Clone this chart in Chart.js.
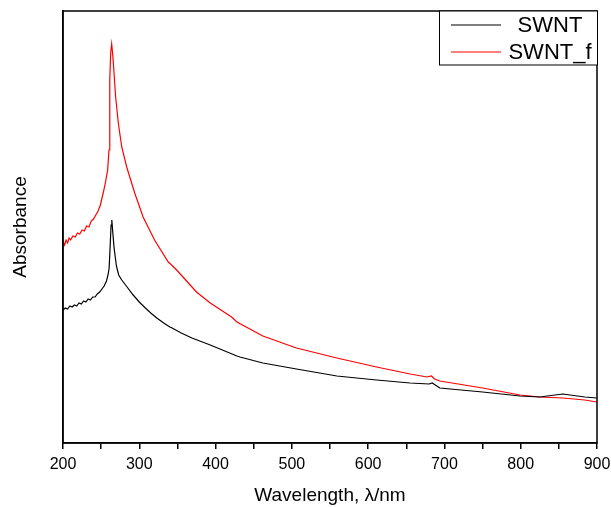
<!DOCTYPE html>
<html>
<head>
<meta charset="utf-8">
<script src="https://cdn.jsdelivr.net/npm/chart.js@4"></script>
<style>
  body { margin: 0; background: #fff; }
  #wrap { width: 611px; height: 507px; }
</style>
</head>
<body>
<div id="wrap"><canvas id="spectra" width="611" height="507"></canvas></div>
<script>
// wavelength (nm) and absorbance (a.u.)
var swntX = [200, 203, 206, 209, 212, 215, 218, 221, 224, 227, 230, 233, 236, 239, 242, 245, 248, 251, 254, 257,
  259, 260.5, 262, 263, 264, 265, 267, 270, 273, 277, 284, 292, 300, 308, 315, 323, 332, 340, 343, 355, 369, 393,
  428, 432, 462, 506, 559, 611, 655, 680, 684, 688, 694, 750, 799, 825, 855, 884, 900];
var swntY = [1.33, 1.35, 1.34, 1.37, 1.36, 1.38, 1.37, 1.40, 1.39, 1.42, 1.41, 1.44, 1.43, 1.46, 1.46, 1.49, 1.51, 1.54, 1.57, 1.62,
  1.68, 1.75, 2.00, 2.18, 2.23, 2.13, 1.95, 1.77, 1.68, 1.63, 1.56, 1.48, 1.41, 1.35, 1.30, 1.25, 1.20, 1.16, 1.15, 1.10, 1.05, 0.98,
  0.87, 0.86, 0.80, 0.74, 0.67, 0.63, 0.60, 0.59, 0.60, 0.58, 0.55, 0.51, 0.47, 0.46, 0.49, 0.46, 0.45];

var swntfX = [200, 202, 204, 206, 208, 210, 213, 216, 219, 222, 225, 228, 231, 234, 237, 240, 243, 246, 249, 253,
  256, 258.5, 260.3, 261, 261.6, 262.5, 263.8, 265, 266, 269, 272.5, 277, 283.5, 294, 305, 320, 338, 341, 349,
  362, 375, 393, 421, 428, 462, 506, 559, 611, 655, 677, 683, 687, 694, 750, 799, 825, 855, 884, 900];
var swntfY = [2.02, 1.98, 2.03, 2.00, 2.05, 2.03, 2.07, 2.06, 2.10, 2.09, 2.13, 2.12, 2.17, 2.16, 2.22, 2.24, 2.28, 2.32, 2.38, 2.51,
  2.62, 2.73, 2.93, 3.20, 3.63, 3.90, 3.99, 3.90, 3.80, 3.46, 3.20, 2.96, 2.76, 2.50, 2.26, 2.03, 1.81, 1.79, 1.73,
  1.62, 1.51, 1.40, 1.26, 1.21, 1.07, 0.95, 0.85, 0.76, 0.69, 0.66, 0.67, 0.64, 0.62, 0.55, 0.48, 0.46, 0.45, 0.43, 0.41];

var seriesNames = ['SWNT', 'SWNT_f'];
var seriesColors = ['#000000', '#ff0000'];
var xTickLabels = [200, 300, 400, 500, 600, 700, 800, 900];

function toPoints(xs, ys) {
  return xs.map(function (x, i) { return { x: x, y: ys[i] }; });
}

var frameAndLegend = {
  id: 'frameAndLegend',
  afterDraw: function (chart) {
    var ctx = chart.ctx, a = chart.chartArea;
    ctx.save();
    ctx.strokeStyle = '#000';
    ctx.lineWidth = 1.5;
    ctx.strokeRect(a.left, a.top, a.right - a.left, a.bottom - a.top);

    // legend box in the top right corner
    var bx = 439, by = a.top, bw = a.right - 439, bh = 54;
    ctx.lineWidth = 1;
    ctx.fillStyle = '#fff';
    ctx.fillRect(bx, by, bw, bh);
    ctx.strokeRect(bx + 0.5, by, bw, bh);
    ctx.font = '22px "Liberation Sans", Arial, sans-serif';
    ctx.textBaseline = 'middle';
    ctx.textAlign = 'center';
    chart.data.datasets.forEach(function (ds, i) {
      var ly = by + 14 + i * 27;
      ctx.strokeStyle = ds.borderColor;
      ctx.beginPath();
      ctx.moveTo(451, ly);
      ctx.lineTo(501, ly);
      ctx.stroke();
      ctx.fillStyle = '#000';
      ctx.fillText(ds.label, 550, ly + 1);
    });
    ctx.restore();
  }
};

var ctxS = document.getElementById('spectra').getContext('2d');
var spectraChart = new Chart(ctxS, {
  type: 'scatter',
  data: {
    datasets: [{
        label: seriesNames[0],
        data: toPoints(swntX, swntY),
        showLine: true,
        borderColor: seriesColors[0],
        borderWidth: 1.2,
        pointRadius: 0,
        tension: 0
      },
      {
        label: seriesNames[1],
        data: toPoints(swntfX, swntfY),
        showLine: true,
        borderColor: seriesColors[1],
        borderWidth: 1.2,
        pointRadius: 0,
        tension: 0
      }
    ]
  },
  options: {
    responsive: false,
    animation: false,
    layout: { padding: { top: 11, right: 14, left: 0, bottom: 0 } },
    plugins: { legend: { display: false }, tooltip: { enabled: false } },
    scales: {
      x: {
        type: 'linear',
        min: 200,
        max: 900,
        afterFit: function (s) { s.height = 64; s.paddingLeft = 0; s.paddingRight = 0; },
        afterBuildTicks: function (s) {
          var t = [];
          for (var v = 200; v <= 900; v += 50) t.push({ value: v });
          s.ticks = t;
        },
        ticks: {
          autoSkip: false,
          maxRotation: 0,
          color: '#000',
          padding: 6,
          font: { family: '"Liberation Sans", Arial, sans-serif', size: 16 },
          callback: function (v) { return xTickLabels.indexOf(v) >= 0 ? String(v) : ''; }
        },
        grid: { drawOnChartArea: false, tickLength: 6, color: '#000', lineWidth: 1.5 },
        border: { display: true, color: '#000', width: 1.5 },
        title: {
          display: true,
          text: 'Wavelength, \u03bb/nm',
          color: '#000',
          padding: { top: 0, bottom: 0 },
          font: { family: '"Liberation Sans", Arial, sans-serif', size: 19 }
        }
      },
      y: {
        min: 0,
        max: 4.32,
        afterFit: function (s) { s.width = 63; },
        ticks: { display: false },
        grid: { display: false },
        border: { display: true, color: '#000', width: 1.5 },
        title: {
          display: true,
          text: 'Absorbance',
          color: '#000',
          padding: { top: 9, bottom: 0 },
          font: { family: '"Liberation Sans", Arial, sans-serif', size: 19 }
        }
      }
    }
  },
  plugins: [frameAndLegend]
});
</script>
</body>
</html>
